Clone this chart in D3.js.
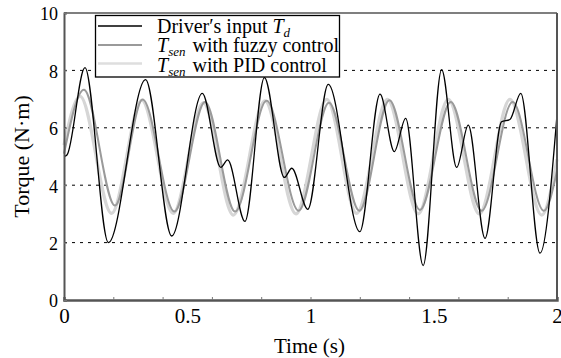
<!DOCTYPE html>
<html>
<head>
<meta charset="utf-8">
<script src="https://cdn.jsdelivr.net/npm/d3@7"></script>
<style>
  body { margin: 0; background: #fff; }
  svg text { font-family: "Liberation Serif", "Times New Roman", "DejaVu Serif", serif !important; }
</style>
</head>
<body>
<svg id="chart" width="561" height="358"></svg>
<script>
// values (time in s, torque in N·m)
const driverT = [0, 0.012, 0.085, 0.18, 0.331, 0.437, 0.561, 0.636, 0.664, 0.734, 0.813, 0.894, 0.924, 0.989,
  1.072, 1.2, 1.282, 1.34, 1.386, 1.457, 1.532, 1.593, 1.64, 1.708, 1.775, 1.809, 1.853, 1.931, 2.0];
const driverV = [5.0, 5.05, 8.1, 2.0, 7.68, 2.23, 7.2, 4.62, 4.88, 2.74, 7.75, 4.27, 4.59, 3.16,
  7.51, 2.38, 7.17, 5.17, 6.33, 1.2, 8.03, 4.62, 6.09, 2.15, 6.21, 6.29, 7.2, 1.63, 6.45];

const fuzzyT = [0, 0.081, 0.207, 0.319, 0.448, 0.572, 0.694, 0.822, 0.952, 1.075, 1.198, 1.32, 1.444,
  1.569, 1.694, 1.82, 1.947, 2.0];
const fuzzyV = [5.1, 7.33, 3.29, 6.99, 3.08, 6.9, 3.08, 6.94, 3.11, 6.87, 3.11, 6.96, 3.14,
  6.9, 3.11, 6.9, 3.11, 4.5];

const pidT = [0, 0.065, 0.193, 0.315, 0.443, 0.565, 0.687, 0.815, 0.941, 1.066, 1.187, 1.312, 1.437,
  1.559, 1.685, 1.809, 1.938, 2.0];
const pidV = [5.4, 7.1, 3.02, 6.96, 3.02, 6.87, 2.96, 6.94, 3.0, 6.99, 3.02, 6.99, 3.0,
  6.99, 3.0, 6.99, 2.96, 4.9];

const yTicks = [0, 2, 4, 6, 8, 10];
const gridValues = [2, 4, 6, 8];
const xLabels = [0, 0.5, 1, 1.5, 2];
const xMinor = [0.2, 0.4, 0.6, 0.8, 1.0, 1.2, 1.4, 1.6, 1.8];

const svg = d3.select('#chart');
const margin = { left: 64, right: 4, top: 13, bottom: 58 };
const W = 561, H = 358;

const x = d3.scaleLinear().domain([0, 2]).range([margin.left, W - margin.right]);
const y = d3.scaleLinear().domain([0, 10]).range([H - margin.bottom, margin.top]);

// dotted grid
svg.append('g')
  .selectAll('line')
  .data(gridValues)
  .enter()
  .append('line')
  .attr('x1', x(0)).attr('x2', x(2))
  .attr('y1', d => y(d)).attr('y2', d => y(d))
  .attr('stroke', '#000')
  .attr('stroke-width', 1)
  .attr('stroke-dasharray', '3,5');

const line = d3.line()
  .x(d => x(d[0]))
  .y(d => y(d[1]))
  .curve(d3.curveMonotoneX);

const series = [
  { t: pidT, v: pidV, color: '#d6d6d6', width: 3.2, name: 'pid' },
  { t: fuzzyT, v: fuzzyV, color: '#9a9a9a', width: 2, name: 'fuzzy' },
  { t: driverT, v: driverV, color: '#000', width: 1.3, name: 'driver' }
];

series.forEach(s => {
  svg.append('path')
    .datum(d3.zip(s.t, s.v))
    .attr('class', s.name)
    .attr('fill', 'none')
    .attr('stroke', s.color)
    .attr('stroke-width', s.width)
    .attr('d', line);
});

// frame
svg.append('line')
  .attr('x1', x(0)).attr('x2', x(2))
  .attr('y1', y(10)).attr('y2', y(10))
  .attr('stroke', '#000').attr('stroke-width', 1.2);
svg.append('line')
  .attr('x1', x(2)).attr('x2', x(2))
  .attr('y1', y(10)).attr('y2', y(0))
  .attr('stroke', '#555').attr('stroke-width', 2);

// x axis: minor ticks pointing inwards, labels at 0.5 steps
const xAxisMinor = svg.append('g')
  .attr('transform', `translate(0,${y(0)})`)
  .call(d3.axisBottom(x).tickValues(xMinor).tickSize(-3).tickFormat(''));
xAxisMinor.select('.domain').attr('stroke', '#555').attr('stroke-width', 2.4);
xAxisMinor.selectAll('.tick line').attr('stroke', '#777');

const xAxisLab = svg.append('g')
  .attr('transform', `translate(0,${y(0)})`)
  .call(d3.axisBottom(x).tickValues(xLabels).tickSize(0).tickPadding(8).tickFormat(d3.format('')));
xAxisLab.select('.domain').remove();
xAxisLab.attr('font-size', null).attr('font-family', null);
xAxisLab.selectAll('text')
  .style('font-size', '21px')
  .attr('fill', '#000');

// y axis
const yAxis = svg.append('g')
  .attr('transform', `translate(${x(0)},0)`)
  .call(d3.axisLeft(y).tickValues(yTicks).tickSize(-3).tickPadding(6));
yAxis.attr('font-size', null).attr('font-family', null);
yAxis.select('.domain').attr('stroke', '#555').attr('stroke-width', 2);
yAxis.selectAll('.tick line').attr('stroke', '#777');
yAxis.selectAll('text')
  .style('font-size', '18px')
  .attr('dy', '0.38em')
  .attr('fill', '#000');

// axis titles
svg.append('text')
  .attr('x', x(1) - 1)
  .attr('y', 353)
  .attr('text-anchor', 'middle')
  .style('font-size', '21px')
  .text('Time (s)');

svg.append('text')
  .attr('transform', `translate(29,${y(5)}) rotate(-90)`)
  .attr('text-anchor', 'middle')
  .style('font-size', '22px')
  .text('Torque (N·m)');

// legend
const legend = svg.append('g');
legend.append('rect')
  .attr('x', 95.5).attr('y', 15.5)
  .attr('width', 244).attr('height', 61.5)
  .attr('fill', '#fff')
  .attr('stroke', '#000')
  .attr('stroke-width', 1.3);

const legendRows = [
  { color: '#000', width: 1.6 },
  { color: '#9a9a9a', width: 2 },
  { color: '#dedede', width: 2.4 }
];
const rowY = [26, 45, 63.5];
const baseY = [33, 52, 71.5];

legend.selectAll('line.key')
  .data(legendRows)
  .enter()
  .append('line')
  .attr('class', 'key')
  .attr('x1', 98).attr('x2', 142)
  .attr('y1', (d, i) => rowY[i]).attr('y2', (d, i) => rowY[i])
  .attr('stroke', d => d.color)
  .attr('stroke-width', d => d.width);

const t1 = legend.append('text').attr('x', 157).attr('y', baseY[0]).style('font-size', '20px');
t1.append('tspan').text('Driver′s input ');
t1.append('tspan').style('font-style', 'italic').text('T');
t1.append('tspan').style('font-style', 'italic').style('font-size', '13px').attr('dy', 4).text('d');

['with fuzzy control', 'with PID control'].forEach((label, i) => {
  const t = legend.append('text').attr('x', 157).attr('y', baseY[i + 1]).style('font-size', '20px');
  t.append('tspan').style('font-style', 'italic').text('T');
  t.append('tspan').style('font-style', 'italic').style('font-size', '13px').attr('dy', 4).text('sen');
  t.append('tspan').attr('dy', -4).attr('dx', 2).text(' ' + label);
});
</script>
</body>
</html>
